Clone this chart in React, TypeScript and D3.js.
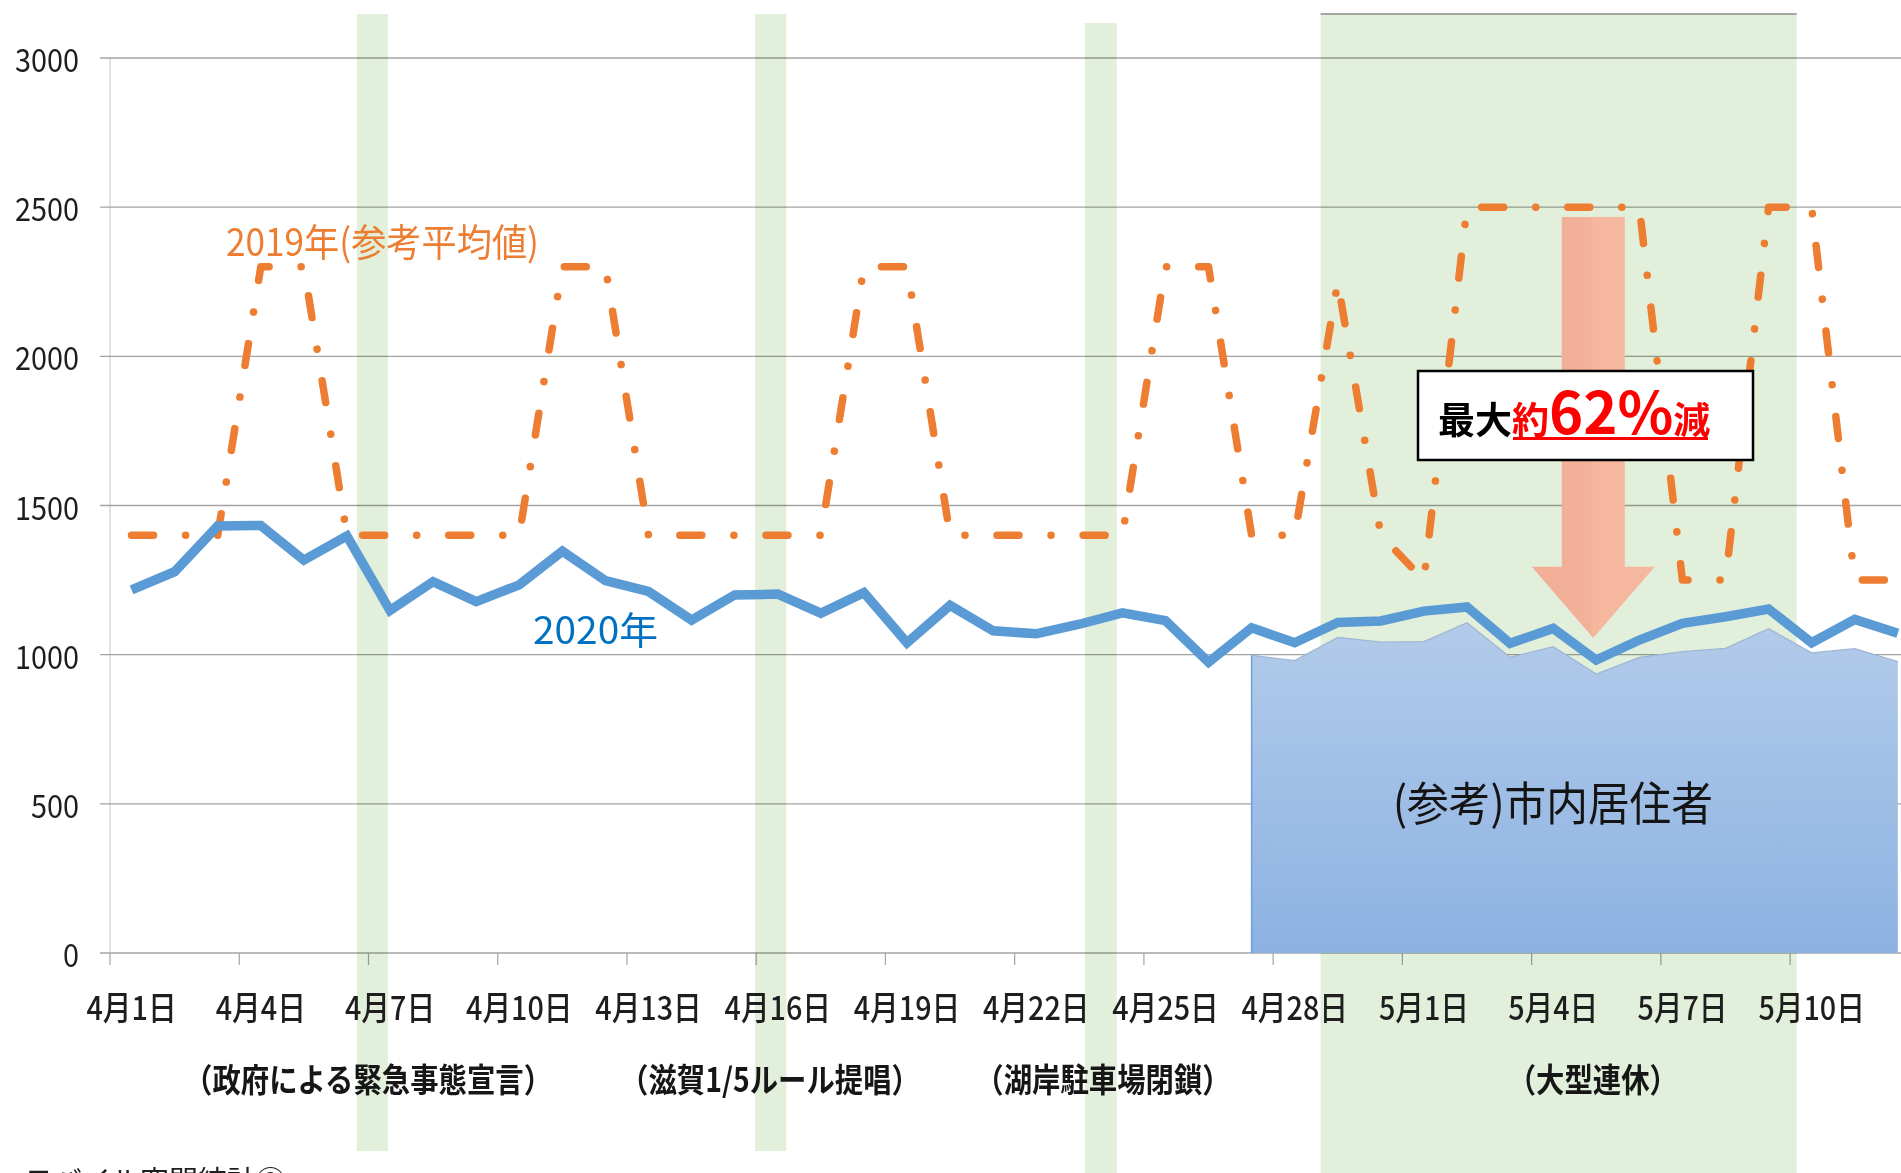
import React from "react";
import * as d3 from "d3";

// ---------- data ----------
const dates = [
  "4月1日", "4月2日", "4月3日", "4月4日", "4月5日", "4月6日", "4月7日", "4月8日", "4月9日", "4月10日",
  "4月11日", "4月12日", "4月13日", "4月14日", "4月15日", "4月16日", "4月17日", "4月18日", "4月19日", "4月20日",
  "4月21日", "4月22日", "4月23日", "4月24日", "4月25日", "4月26日", "4月27日", "4月28日", "4月29日", "4月30日",
  "5月1日", "5月2日", "5月3日", "5月4日", "5月5日", "5月6日", "5月7日", "5月8日", "5月9日", "5月10日",
  "5月11日", "5月12日",
];
const tickLabels = [
  "4月1日", "4月4日", "4月7日", "4月10日", "4月13日", "4月16日", "4月19日",
  "4月22日", "4月25日", "4月28日", "5月1日", "5月4日", "5月7日", "5月10日",
];
const yTicks = [0, 500, 1000, 1500, 2000, 2500, 3000];

const values2020 = [
  1217, 1278, 1431, 1433, 1317, 1398, 1148, 1245, 1178, 1234,
  1347, 1248, 1212, 1116, 1200, 1203, 1139, 1208, 1040, 1165,
  1080, 1070, 1102, 1140, 1114, 975, 1090, 1040, 1108, 1113,
  1146, 1160, 1038, 1088, 982, 1049, 1105, 1127, 1153, 1040,
  1118, 1072,
];
const values2019 = [
  1400, 1400, 1400, 2300, 2300, 1400, 1400, 1400, 1400, 1400,
  2300, 2300, 1400, 1400, 1400, 1400, 1400, 2300, 2300, 1400,
  1400, 1400, 1400, 1400, 2300, 2300, 1400, 1400, 2250, 1400,
  1250, 2500, 2500, 2500, 2500, 2500, 1250, 1250, 2500, 2500,
  1250, 1250,
];
const residentDates = [
  "4月27日", "4月28日", "4月29日", "4月30日", "5月1日", "5月2日", "5月3日", "5月4日",
  "5月5日", "5月6日", "5月7日", "5月8日", "5月9日", "5月10日", "5月11日", "5月12日",
];
const residentValues = [998, 980, 1058, 1042, 1044, 1107, 991, 1027, 935, 991, 1010, 1021, 1087, 1006, 1020, 977];

// event bands, in day-index units (start, end)
const eventBands = [
  [5.73, 6.45],
  [14.97, 15.7],
  [22.63, 23.37],
  [28.1, 39.15],
];
const eventLabels = ["（政府による緊急事態宣言）", "（滋賀1/5ルール提唱）", "（湖岸駐車場閉鎖）", "（大型連休）"];
const eventLabelAt = [5.99, 15.32, 23.05, 34.42];

const label2019 = "2019年(参考平均値)";
const label2020 = "2020年";
const labelResident = "(参考)市内居住者";
const sourceLabel = "モバイル空間統計②";

// ---------- layout ----------
const W = 1901;
const H = 1173;
const FONT = "'Noto Sans CJK JP', 'Noto Sans', sans-serif";

export default function App() {
  const x = d3.scaleLinear().domain([0, 42]).range([110, 110 + 42 * 43.08]);
  const cx = (i: number) => x(i + 0.5);
  const y = d3.scaleLinear().domain([0, 3000]).range([953, 58]);
  const idx = (d: string) => dates.indexOf(d);

  const line = d3
    .line<number>()
    .x((_, i) => cx(i))
    .y((d) => y(d));

  const area = d3
    .area<number>()
    .x((_, i) => cx(idx(residentDates[i])))
    .y0(y(0))
    .y1((d) => y(d));
  const areaTop = d3
    .line<number>()
    .x((_, i) => cx(idx(residentDates[i])))
    .y((d) => y(d));

  const bandTops = [14, 14, 23, 14];
  const bandBottoms = [1151, 1151, 1173, 1173];

  // arrow (annotation) anchored on 5/5
  const ax = cx(idx("5月5日")) - 3;
  const aTop = y(2467);
  const aHeadY = y(1295);
  const aTip = y(1056);
  const shaftHalf = 31.5;
  const headHalf = 61.5;

  // box
  const bx = 1418, by = 371, bw = 335, bh = 89;

  return (
    <svg
      width={W}
      height={H}
      style={{ position: "absolute", left: 0, top: 0, background: "#fff" }}
      fontFamily={FONT}
    >
      <defs>
        <linearGradient id="resGrad" x1="0" y1="0" x2="0" y2="1">
          <stop offset="0" stopColor="#b3cbea" />
          <stop offset="1" stopColor="#8cb2e2" />
        </linearGradient>
        <linearGradient id="arrowGrad" x1="0" y1="0" x2="1" y2="0">
          <stop offset="0" stopColor="#f2ae96" />
          <stop offset="0.48" stopColor="#f3b199" />
          <stop offset="0.5" stopColor="#f5b79e" />
          <stop offset="1" stopColor="#f5b79e" />
        </linearGradient>
      </defs>
      <rect x={0} y={0} width={W} height={H} fill="#fff" />

      {/* y axis line */}
      <line x1={110} x2={110} y1={y(3000)} y2={y(0)} stroke="#cfcfcf" strokeWidth={1.2} />

      {/* gridlines */}
      {yTicks.map((t) => (
        <line key={t} x1={100} x2={W} y1={y(t)} y2={y(t)} stroke="#a3a3a3" strokeWidth={1.3} />
      ))}

      {/* x ticks */}
      {tickLabels.map((_, k) => (
        <line key={k} x1={x(k * 3)} x2={x(k * 3)} y1={y(0)} y2={y(0) + 12} stroke="#a3a3a3" strokeWidth={1.2} />
      ))}

      {/* event bands */}
      {eventBands.map(([s, e], k) => (
        <rect
          key={k}
          x={x(s)}
          y={bandTops[k]}
          width={x(e) - x(s)}
          height={bandBottoms[k] - bandTops[k]}
          fill="#e2efda"
          style={{ mixBlendMode: "multiply" }}
        />
      ))}
      <line
        x1={x(eventBands[3][0])}
        x2={x(eventBands[3][1])}
        y1={bandTops[3]}
        y2={bandTops[3]}
        stroke="#8c8c8c"
        strokeWidth={1.5}
      />

      {/* residents area */}
      <path d={area(residentValues) || ""} fill="url(#resGrad)" />
      <path d={areaTop(residentValues) || ""} fill="none" stroke="#9fb6d4" strokeWidth={1.3} />
      <line
        x1={cx(idx(residentDates[0]))}
        x2={cx(idx(residentDates[0]))}
        y1={y(residentValues[0])}
        y2={y(0)}
        stroke="#6fa0db"
        strokeWidth={1.5}
      />

      {/* 2019 dash-dot line */}
      <path
        d={line(values2019) || ""}
        fill="none"
        stroke="#ed7d31"
        strokeWidth={7.5}
        strokeLinecap="round"
        strokeLinejoin="round"
        strokeDasharray="22 32 0.1 32"
      />

      {/* 2020 line */}
      <path
        d={line(values2020) || ""}
        fill="none"
        stroke="#5b9bd5"
        strokeWidth={9.5}
        strokeLinejoin="miter"
        strokeLinecap="butt"
      />

      {/* arrow */}
      <path
        d={`M${ax - shaftHalf},${aTop} L${ax + shaftHalf},${aTop} L${ax + shaftHalf},${aHeadY} L${ax + headHalf},${aHeadY} L${ax},${aTip} L${ax - headHalf},${aHeadY} L${ax - shaftHalf},${aHeadY} Z`}
        fill="url(#arrowGrad)"
      />

      {/* box */}
      <rect x={bx} y={by} width={bw} height={bh} fill="#fff" stroke="#000" strokeWidth={2.5} />
      <text x={bx + 20} y={by + 63} fontWeight="bold">
        <tspan fontSize={37} fill="#000">最大</tspan>
        <tspan fontSize={37} fill="#ff0000">約</tspan>
        <tspan fontSize={58} fill="#ff0000">62%</tspan>
        <tspan fontSize={37} fill="#ff0000">減</tspan>
      </text>
      <line x1={bx + 95} x2={bx + 290} y1={by + 67.5} y2={by + 67.5} stroke="#ff0000" strokeWidth={3} />

      {/* y tick labels */}
      {yTicks.map((t) => (
        <text
          key={t}
          x={79}
          y={y(t)}
          textAnchor="end"
          dominantBaseline="central"
          fontSize={32}
          fill="#1e1e1e"
          textLength={16 * String(t).length}
          lengthAdjust="spacingAndGlyphs"
        >
          {t}
        </text>
      ))}

      {/* x tick labels */}
      {tickLabels.map((d) => (
        <text
          key={d}
          transform={`translate(${cx(idx(d))},1006) scale(0.87,1)`}
          textAnchor="middle"
          dominantBaseline="central"
          fontSize={33}
          fontWeight={500}
          fill="#1e1e1e"
        >
          {d}
        </text>
      ))}

      {/* event labels */}
      {eventLabels.map((l, k) => (
        <text
          key={l}
          transform={`translate(${x(eventLabelAt[k])},1078) scale(0.86,1)`}
          textAnchor="middle"
          dominantBaseline="central"
          fontSize={33}
          fontWeight="bold"
          fill="#161616"
        >
          {l}
        </text>
      ))}

      {/* series labels */}
      <text
        x={226}
        y={239}
        dominantBaseline="central"
        fontSize={38}
        fill="#ed7d31"
        textLength={313}
        lengthAdjust="spacingAndGlyphs"
      >
        {label2019}
      </text>
      <text
        x={533}
        y={627}
        dominantBaseline="central"
        fontSize={38}
        fill="#0070c0"
        textLength={125}
        lengthAdjust="spacingAndGlyphs"
      >
        {label2020}
      </text>
      <text
        x={1393}
        y={800}
        dominantBaseline="central"
        fontSize={46}
        fill="#141414"
        textLength={320}
        lengthAdjust="spacingAndGlyphs"
      >
        {labelResident}
      </text>

      {/* source (cut off at the bottom, as in the reference) */}
      <text x={24} y={1192} fontSize={29} fill="#1e1e1e">
        {sourceLabel}
      </text>
    </svg>
  );
}
